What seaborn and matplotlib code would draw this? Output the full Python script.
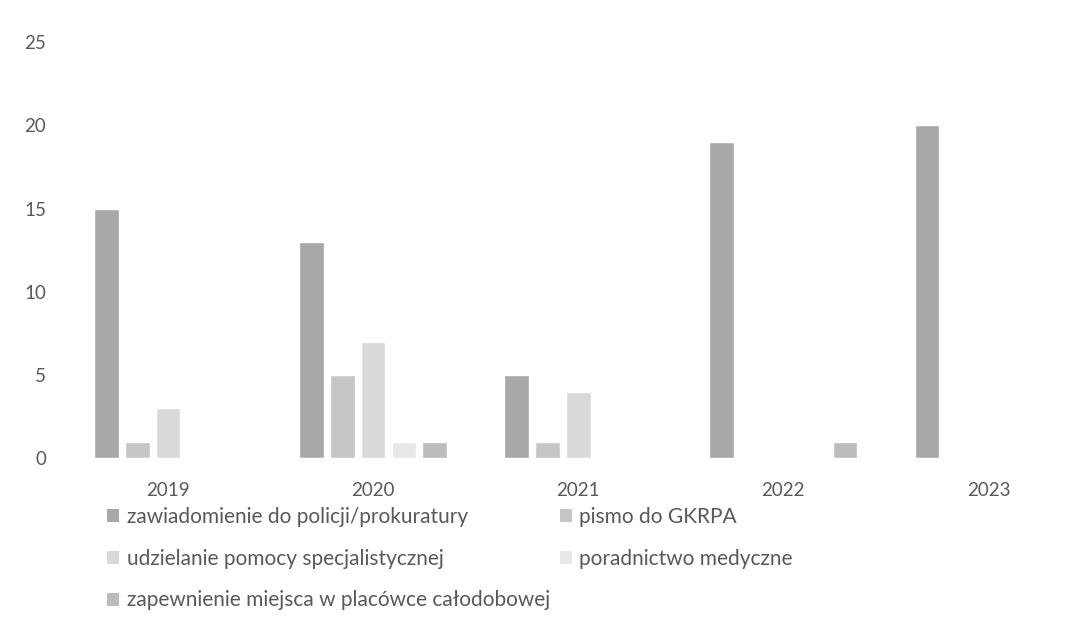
import matplotlib
matplotlib.use("Agg")
import matplotlib.pyplot as plt
import seaborn as sns
import pandas as pd
from matplotlib.patches import Patch

years = ["2019", "2020", "2021", "2022", "2023"]
series = [
    "zawiadomienie do policji/prokuratury",
    "pismo do GKRPA",
    "udzielanie pomocy specjalistycznej",
    "poradnictwo medyczne",
    "zapewnienie miejsca w placówce całodobowej",
]
zawiadomienie = [15, 13, 5, 19, 20]
pismo = [1, 5, 1, 0, 0]
udzielanie = [3, 7, 4, 0, 0]
poradnictwo = [0, 1, 0, 0, 0]
zapewnienie = [0, 1, 0, 1, 0]
colors = ["#a8a8a8", "#c6c6c6", "#d9d9d9", "#e8e8e8", "#bcbcbc"]

values = [zawiadomienie, pismo, udzielanie, poradnictwo, zapewnienie]
rows = []
for s, vals in zip(series, values):
    for y, v in zip(years, vals):
        rows.append({"rok": y, "seria": s, "wartosc": v})
df = pd.DataFrame(rows)

sns.set_theme(style="white")
plt.rcParams["font.family"] = ["Lato", "DejaVu Sans"]

fig = plt.figure(figsize=(10.91, 6.39), dpi=100)
ax = fig.add_axes([0.06, 0.283, 0.94, 0.651])
sns.barplot(data=df, x="rok", y="wartosc", hue="seria", order=years,
            hue_order=series, palette=colors, width=0.75, gap=0.2,
            ax=ax, legend=False, saturation=1)
ax.set_xlim(-0.5, 4.5)
ax.set_ylim(0, 25)
ax.set_yticks([0, 5, 10, 15, 20, 25])
ax.set_xlabel("")
ax.set_ylabel("")
for sp in ax.spines.values():
    sp.set_visible(False)
ax.tick_params(axis="x", pad=17, labelsize=13.5, colors="#595959", length=0)
ax.tick_params(axis="y", pad=14, labelsize=13.5, colors="#595959", length=0)
ax.set_position([0.06, 0.283, 0.94, 0.651])

handles = [Patch(facecolor=c, edgecolor="none") for c in colors]
leg_kw = dict(loc="upper left", frameon=False, fontsize=15,
              labelcolor="#595959", handlelength=0.6, handleheight=0.6,
              handletextpad=0.35, labelspacing=1.05, borderaxespad=0,
              borderpad=0)
col1 = [0, 2, 4]
col2 = [1, 3]
leg1 = fig.legend([handles[i] for i in col1], [series[i] for i in col1],
                  bbox_to_anchor=(0.098, 0.207), **leg_kw)
leg2 = fig.legend([handles[i] for i in col2], [series[i] for i in col2],
                  bbox_to_anchor=(0.513, 0.207), **leg_kw)

fig.savefig("out.png", dpi=100, facecolor="white")
